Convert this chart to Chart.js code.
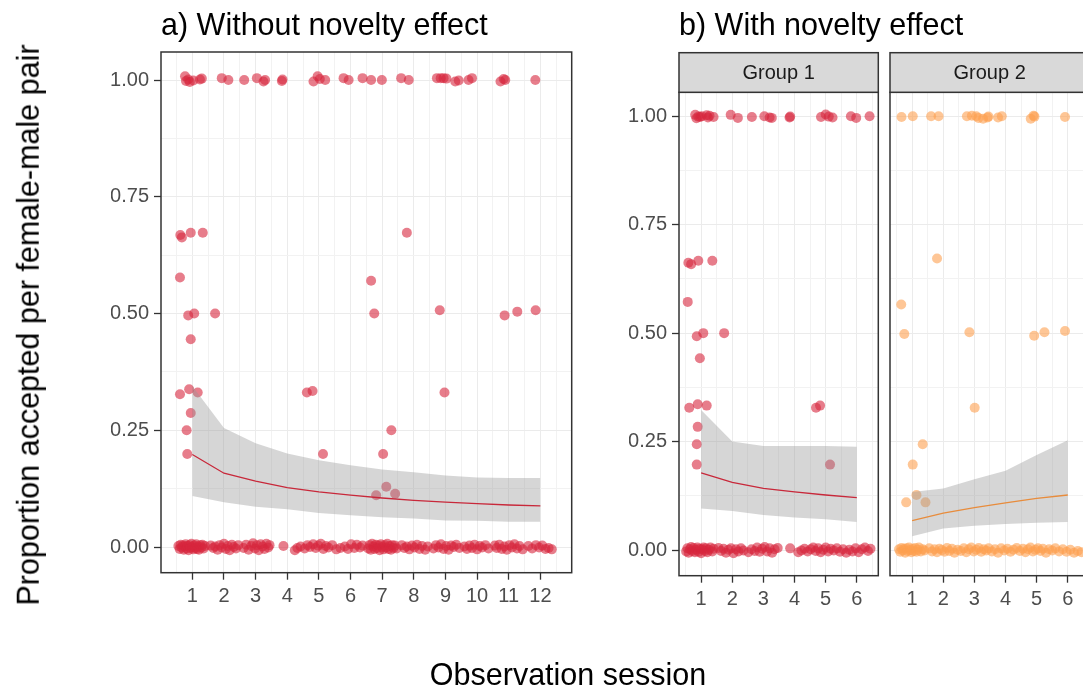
<!DOCTYPE html>
<html>
<head>
<meta charset="utf-8">
<script src="https://cdn.jsdelivr.net/npm/chart.js@4.4.1/dist/chart.umd.min.js"></script>
<style>
  html, body { margin: 0; padding: 0; background: #fff; }
  #wrap { position: relative; width: 1083px; height: 690px; overflow: hidden; font-family: 'Liberation Sans', Arial, sans-serif; }
  #wrap canvas { position: absolute; left: 0; top: 0; }
  .txt { position: absolute; white-space: nowrap; line-height: 1; color: #000; font-size: 30.5px; }
</style>
</head>
<body>
<div id="wrap">
  <canvas id="panelA" width="1100" height="690"></canvas>
  <canvas id="panelB1" width="1100" height="690"></canvas>
  <canvas id="panelB2" width="1100" height="690"></canvas>
  <div class="txt" style="left:161px; top:8.5px;">a) Without novelty effect</div>
  <div class="txt" style="left:679px; top:8.5px;">b) With novelty effect</div>
  <div class="txt" style="left:28px; top:325px; transform: translate(-50%, -50%) rotate(-90deg);">Proportion accepted per female-male pair</div>
  <div class="txt" style="left:568px; top:659px; transform: translateX(-50%);">Observation session</div>
</div>
<script>
// ---- data ----
const SESSIONS_A = [1, 2, 3, 4, 5, 6, 7, 8, 9, 10, 11, 12];
const FIT_A = [0.198, 0.158, 0.141, 0.127, 0.118, 0.111, 0.105, 0.100, 0.096, 0.093, 0.090, 0.088];
const UPPER_A = [0.345, 0.255, 0.222, 0.200, 0.186, 0.175, 0.166, 0.160, 0.153, 0.149, 0.148, 0.148];
const LOWER_A = [0.109, 0.096, 0.086, 0.081, 0.073, 0.068, 0.064, 0.061, 0.057, 0.056, 0.054, 0.054];

const SESSIONS_B = [1, 2, 3, 4, 5, 6];
const FIT_B1 = [0.178, 0.156, 0.142, 0.134, 0.127, 0.121];
const UPPER_B1 = [0.323, 0.250, 0.240, 0.240, 0.240, 0.238];
const LOWER_B1 = [0.096, 0.090, 0.081, 0.075, 0.071, 0.065];
const FIT_B2 = [0.068, 0.085, 0.098, 0.109, 0.119, 0.127];
const UPPER_B2 = [0.134, 0.142, 0.163, 0.183, 0.219, 0.253];
const LOWER_B2 = [0.032, 0.050, 0.056, 0.060, 0.063, 0.065];

// jittered observations [session, proportion]
const POINTS_A = [
  [0.77,1.008],[0.80,0.998],[0.87,1.001],[0.92,0.996],[1.03,0.999],[1.24,1.001],[1.30,1.003],[1.93,1.004],[2.14,1.000],
  [2.64,1.000],[3.04,1.004],[3.25,0.997],[3.30,1.000],[3.83,0.998],[3.85,1.001],[4.83,0.997],[4.96,1.008],[5.03,1.002],
  [5.20,1.000],[5.78,1.004],[5.94,1.000],[6.38,1.004],[6.65,1.000],[6.99,1.000],[7.60,1.004],[7.84,1.000],[8.73,1.004],
  [8.85,1.004],[8.94,1.004],[9.03,1.003],[9.31,0.997],[9.42,0.999],[9.73,1.000],[9.84,1.004],[10.74,0.997],[10.84,1.002],
  [10.89,1.000],[11.84,1.000],
  [0.62,0.668],[0.67,0.663],[0.95,0.673],[1.33,0.673],[7.78,0.673],[0.61,0.577],[6.65,0.570],
  [0.87,0.496],[1.06,0.500],[1.72,0.500],[6.75,0.500],[8.82,0.507],[10.87,0.496],[11.27,0.504],[11.85,0.507],
  [0.95,0.445],[0.61,0.327],[0.90,0.338],[1.17,0.331],[4.62,0.331],[4.80,0.334],[8.97,0.331],
  [0.95,0.287],[0.82,0.250],[7.29,0.250],[0.84,0.199],[5.13,0.199],[7.03,0.199],[7.13,0.129],[6.81,0.111],[7.41,0.114],
  [0.56,0.002],[0.60,-0.004],[0.63,0.005],[0.66,-0.001],[0.70,0.003],[0.73,-0.006],[0.76,0.001],[0.79,0.006],[0.82,-0.003],
  [0.85,0.002],[0.88,-0.007],[0.91,0.004],[0.94,-0.002],[0.97,0.007],[1.00,0.000],[1.03,-0.005],[1.06,0.003],[1.09,-0.002],
  [1.12,0.006],[1.15,-0.004],[1.18,0.001],[1.21,-0.006],[1.25,0.004],[1.28,-0.001],[1.32,0.005],[1.36,-0.003],[1.40,0.002],
  [1.58,0.003],[1.66,-0.002],[1.72,0.001],[1.80,-0.006],[1.86,0.004],[1.93,-0.001],[2.00,0.007],[2.06,-0.004],[2.12,0.002],
  [2.18,-0.007],[2.25,0.005],[2.31,0.000],[2.38,-0.003],[2.45,0.004],
  [2.62,-0.002],[2.70,0.005],[2.78,-0.006],[2.86,0.002],[2.92,0.008],[2.98,-0.003],[3.04,0.004],[3.10,-0.007],[3.16,0.006],
  [3.22,0.001],[3.28,-0.004],[3.34,0.007],[3.40,-0.001],[3.44,0.004],[3.88,0.002],
  [4.24,-0.007],[4.32,-0.002],[4.42,0.001],[4.55,-0.003],[4.64,0.004],[4.72,0.000],[4.82,0.006],[4.90,-0.002],[4.98,0.003],
  [5.06,0.007],[5.14,-0.004],[5.22,0.002],[5.30,-0.001],[5.42,0.004],[5.55,-0.005],[5.68,-0.002],
  [5.82,0.001],[5.92,-0.004],[6.02,0.006],[6.12,-0.002],[6.20,0.005],[6.30,-0.001],[6.38,0.003],
  [6.56,-0.003],[6.60,0.004],[6.64,-0.006],[6.68,0.007],[6.72,0.001],[6.76,-0.004],[6.80,0.005],[6.84,-0.002],[6.88,0.003],
  [6.92,-0.007],[6.96,0.006],[7.00,0.000],[7.04,-0.005],[7.08,0.004],[7.12,-0.001],[7.16,0.007],[7.20,-0.004],[7.24,0.002],
  [7.28,-0.006],[7.32,0.004],[7.36,-0.002],[7.40,0.003],[7.46,-0.003],
  [7.62,0.004],[7.70,-0.002],[7.78,0.001],[7.86,-0.005],[7.94,0.003],[8.02,-0.001],[8.10,0.005],[8.18,-0.004],[8.26,0.002],
  [8.36,-0.006],[8.44,0.001],
  [8.62,-0.003],[8.70,0.004],[8.78,-0.001],[8.86,0.006],[8.94,-0.004],[9.02,0.002],[9.10,-0.006],[9.18,0.003],[9.26,0.000],
  [9.34,0.005],[9.44,-0.002],
  [9.60,0.001],[9.68,-0.004],[9.76,0.003],[9.84,-0.002],[9.92,0.005],[10.00,-0.005],[10.08,0.002],[10.16,-0.001],[10.26,0.004],
  [10.36,-0.003],
  [10.56,0.003],[10.62,-0.002],[10.70,0.005],[10.78,-0.004],[10.86,0.001],[10.94,-0.006],[11.02,0.004],[11.10,-0.001],[11.18,0.006],
  [11.26,-0.003],[11.34,0.002],[11.44,-0.005],
  [11.62,0.002],[11.74,-0.003],[11.86,0.004],[11.96,-0.001],[12.06,0.003],[12.16,-0.004],[12.26,-0.002],[12.36,-0.005]
];

const POINTS_B1 = [
  [0.81,1.003],[0.85,0.995],[0.91,0.999],[0.97,0.998],[1.02,1.000],[1.18,1.002],[1.22,0.997],[1.27,1.001],[1.40,0.998],
  [1.95,1.003],[2.18,0.996],[2.63,0.998],[3.03,1.000],[3.20,0.997],[3.27,0.996],[3.84,0.997],[3.86,0.999],[4.85,0.998],
  [5.00,1.004],[5.10,0.999],[5.22,0.997],[5.81,1.000],[5.98,0.996],[6.41,1.000],
  [0.59,0.662],[0.68,0.659],[0.91,0.667],[1.36,0.667],[0.57,0.572],[0.86,0.493],[1.07,0.500],[1.74,0.500],[0.96,0.442],
  [0.62,0.328],[0.89,0.336],[1.18,0.333],[4.69,0.328],[4.82,0.333],[0.89,0.284],[0.86,0.244],[0.86,0.197],[5.14,0.197],
  [0.52,-0.003],[0.56,0.004],[0.60,-0.006],[0.64,0.002],[0.68,0.007],[0.72,-0.002],[0.76,0.005],[0.80,-0.005],[0.84,0.001],
  [0.88,0.006],[0.92,-0.004],[0.96,0.003],[1.00,-0.007],[1.04,0.002],[1.08,0.006],[1.12,-0.002],[1.16,0.004],[1.20,-0.005],
  [1.25,0.001],[1.30,0.006],[1.36,-0.003],[1.40,0.003],
  [1.56,0.005],[1.64,-0.002],[1.72,0.003],[1.80,-0.006],[1.88,0.001],[1.96,0.004],[2.04,-0.007],[2.12,0.002],[2.20,-0.003],
  [2.28,0.004],[2.36,-0.001],
  [2.52,-0.005],[2.62,0.002],[2.72,-0.002],[2.80,0.006],[2.88,-0.004],[2.96,0.003],[3.04,0.007],[3.12,-0.003],[3.20,0.004],
  [3.28,-0.006],[3.36,0.002],[3.46,0.005],[3.86,0.004],
  [4.12,-0.005],[4.22,-0.001],[4.32,0.003],[4.42,-0.003],[4.52,0.002],[4.60,0.006],[4.68,-0.002],[4.76,0.004],[4.84,-0.005],
  [4.92,0.001],[5.00,0.006],[5.08,-0.003],[5.16,0.003],[5.26,-0.001],[5.36,0.004],[5.46,-0.004],[5.56,0.002],[5.66,-0.006],
  [5.76,0.001],[5.86,-0.003],[5.96,0.004],[6.06,-0.005],[6.16,0.002],[6.26,0.006],[6.36,-0.002],[6.44,0.003]
];

const POINTS_B2 = [
  [0.66,0.998],[1.02,1.000],[1.61,1.000],[1.85,1.000],[2.76,1.000],[2.92,1.001],[3.06,1.000],[3.13,0.996],[3.28,0.994],
  [3.42,0.997],[3.45,0.999],[3.76,0.997],[3.88,1.000],[4.81,0.994],[4.90,1.001],[4.93,0.999],[5.91,0.998],
  [1.80,0.672],[0.65,0.566],[0.75,0.498],[2.84,0.502],[4.92,0.494],[5.25,0.502],[5.91,0.505],[3.01,0.328],
  [1.34,0.244],[1.02,0.197],[0.81,0.110],[1.14,0.127],[1.43,0.110],
  [0.58,0.002],[0.62,-0.004],[0.66,0.005],[0.70,-0.001],[0.74,0.003],[0.78,-0.006],[0.82,0.004],[0.86,-0.002],[0.90,0.006],
  [0.94,0.000],[0.98,-0.005],[1.02,0.003],[1.06,-0.002],[1.10,0.005],[1.14,-0.004],[1.18,0.001],[1.22,0.006],[1.28,-0.003],
  [1.34,0.002],[1.40,-0.001],
  [1.55,0.004],[1.64,-0.003],[1.72,0.002],[1.80,-0.005],[1.88,0.003],[1.96,0.000],[2.04,-0.004],[2.12,0.005],[2.20,-0.002],
  [2.28,0.003],[2.36,-0.006],[2.46,0.001],
  [2.56,-0.002],[2.66,0.004],[2.74,-0.005],[2.82,0.002],[2.90,0.006],[2.98,-0.003],[3.06,0.001],[3.14,0.005],[3.22,-0.004],
  [3.30,0.002],[3.38,-0.001],[3.46,0.004],
  [3.56,-0.003],[3.66,0.002],[3.76,-0.006],[3.86,0.004],[3.96,-0.001],[4.06,0.003],[4.16,-0.004],[4.26,0.001],[4.36,0.005],
  [4.46,-0.002],
  [4.56,0.003],[4.64,-0.005],[4.72,0.002],[4.80,0.006],[4.88,-0.003],[4.96,0.001],[5.04,0.004],[5.12,-0.002],[5.20,0.003],
  [5.30,-0.006],[5.40,0.002],
  [5.50,-0.001],[5.60,0.004],[5.72,-0.003],[5.84,0.002],[5.96,-0.004],[6.08,0.001],[6.20,-0.006],[6.32,-0.002],[6.44,-0.005]
];

// axis ticks (major labelled, minor as grid only)
const X_MAJOR_A = [1, 2, 3, 4, 5, 6, 7, 8, 9, 10, 11, 12];
const X_MINOR_A = [0.5, 1.5, 2.5, 3.5, 4.5, 5.5, 6.5, 7.5, 8.5, 9.5, 10.5, 11.5, 12.5];
const X_MAJOR_B = [1, 2, 3, 4, 5, 6];
const X_MINOR_B = [0.5, 1.5, 2.5, 3.5, 4.5, 5.5, 6.5];
const Y_MAJOR = [0, 0.25, 0.5, 0.75, 1];
const Y_MINOR = [0.125, 0.375, 0.625, 0.875];

// ---- drawing ----
Chart.defaults.font.family = "'Liberation Sans', Arial, sans-serif";
Chart.defaults.animation = false;

const RED_PT = 'rgba(215, 38, 61, 0.6)';
const RED_LINE = 'rgb(200, 40, 58)';
const ORANGE_PT = 'rgba(253, 160, 80, 0.6)';
const ORANGE_LINE = 'rgb(232, 140, 60)';
const RIBBON = 'rgba(153, 153, 153, 0.4)';

const toXY = (xs, ys) => xs.map((x, i) => ({ x, y: ys[i] }));

function framePlugin(stripText) {
  return {
    id: 'frame',
    afterDraw(chart) {
      const { ctx, chartArea: a } = chart;
      ctx.save();
      ctx.strokeStyle = '#333333';
      ctx.lineWidth = 1.5;
      ctx.strokeRect(a.left, a.top, a.right - a.left, a.bottom - a.top);
      if (stripText) {
        const h = 39.6;
        ctx.fillStyle = '#D9D9D9';
        ctx.fillRect(a.left, a.top - h, a.right - a.left, h);
        ctx.strokeRect(a.left, a.top - h, a.right - a.left, h);
        ctx.fillStyle = '#1A1A1A';
        ctx.font = "20px 'Liberation Sans', Arial, sans-serif";
        ctx.textAlign = 'center';
        ctx.textBaseline = 'middle';
        ctx.fillText(stripText, (a.left + a.right) / 2, a.top - h / 2 + 1);
      }
      ctx.restore();
    }
  };
}

function makePanel(id, cfg) {
  const xTicks = cfg.xMinor.concat(cfg.xMajor).sort((a, b) => a - b);
  const yTicks = Y_MINOR.concat(Y_MAJOR).sort((a, b) => a - b);
  const yw = cfg.showY ? 50 : 0;
  new Chart(document.getElementById(id), {
    type: 'scatter',
    data: {
      datasets: [
        { type: 'line', data: toXY(cfg.sessions, cfg.fit), borderColor: cfg.lineColor, borderWidth: 1.3, pointRadius: 0, fill: false },
        { type: 'line', data: toXY(cfg.sessions, cfg.upper), borderWidth: 0, pointRadius: 0, backgroundColor: RIBBON, fill: '+1' },
        { type: 'line', data: toXY(cfg.sessions, cfg.lower), borderWidth: 0, pointRadius: 0, fill: false },
        { data: cfg.points.map(p => ({ x: p[0], y: p[1] })), backgroundColor: cfg.pointColor, borderWidth: 0, pointRadius: 5, pointHoverRadius: 5 }
      ]
    },
    options: {
      responsive: false,
      layout: {
        padding: { left: cfg.area.left - yw, right: 1100 - cfg.area.right, top: cfg.area.top, bottom: 690 - cfg.area.bottom - 40 }
      },
      plugins: { legend: { display: false }, tooltip: { enabled: false } },
      scales: {
        x: {
          type: 'linear', min: cfg.xMin, max: cfg.xMax,
          afterBuildTicks: s => { s.ticks = xTicks.map(v => ({ value: v })); },
          afterFit: s => { s.height = 40; },
          border: { display: false },
          grid: {
            color: c => cfg.xMajor.includes(c.tick && c.tick.value) ? '#EBEBEB' : '#F2F2F2',
            lineWidth: 1,
            tickLength: 7,
            tickWidth: 1.3,
            tickColor: c => cfg.xMajor.includes(c.tick && c.tick.value) ? '#333333' : 'rgba(0,0,0,0)'
          },
          ticks: {
            color: '#4D4D4D', font: { size: 20 }, padding: 5, maxRotation: 0, autoSkip: false,
            callback: v => cfg.xMajor.includes(v) ? String(v) : ''
          }
        },
        y: {
          type: 'linear', min: cfg.yMin, max: cfg.yMax,
          afterBuildTicks: s => { s.ticks = yTicks.map(v => ({ value: v })); },
          afterFit: s => { s.width = yw; },
          border: { display: false },
          grid: {
            color: c => Y_MAJOR.includes(c.tick && c.tick.value) ? '#EBEBEB' : '#F2F2F2',
            lineWidth: 1,
            drawTicks: cfg.showY,
            tickLength: 7,
            tickWidth: 1.3,
            tickColor: c => Y_MAJOR.includes(c.tick && c.tick.value) ? '#333333' : 'rgba(0,0,0,0)'
          },
          ticks: {
            display: cfg.showY,
            color: '#4D4D4D', font: { size: 20 }, padding: 5, autoSkip: false,
            callback: v => Y_MAJOR.includes(v) ? v.toFixed(2) : ''
          }
        }
      }
    },
    plugins: [framePlugin(cfg.strip)]
  });
}

makePanel('panelA', {
  area: { left: 161, right: 571.7, top: 52, bottom: 572.7 },
  xMin: 0.01, xMax: 12.99, yMin: -0.055, yMax: 1.06,
  xMajor: X_MAJOR_A, xMinor: X_MINOR_A, showY: true, strip: null,
  sessions: SESSIONS_A, fit: FIT_A, upper: UPPER_A, lower: LOWER_A,
  points: POINTS_A, pointColor: RED_PT, lineColor: RED_LINE
});
makePanel('panelB1', {
  area: { left: 679, right: 878.3, top: 92.3, bottom: 575.7 },
  xMin: 0.29, xMax: 6.69, yMin: -0.059, yMax: 1.055,
  xMajor: X_MAJOR_B, xMinor: X_MINOR_B, showY: true, strip: 'Group 1',
  sessions: SESSIONS_B, fit: FIT_B1, upper: UPPER_B1, lower: LOWER_B1,
  points: POINTS_B1, pointColor: RED_PT, lineColor: RED_LINE
});
makePanel('panelB2', {
  area: { left: 890, right: 1089.3, top: 92.3, bottom: 575.7 },
  xMin: 0.29, xMax: 6.69, yMin: -0.059, yMax: 1.055,
  xMajor: X_MAJOR_B, xMinor: X_MINOR_B, showY: false, strip: 'Group 2',
  sessions: SESSIONS_B, fit: FIT_B2, upper: UPPER_B2, lower: LOWER_B2,
  points: POINTS_B2, pointColor: ORANGE_PT, lineColor: ORANGE_LINE
});
</script>
</body>
</html>
